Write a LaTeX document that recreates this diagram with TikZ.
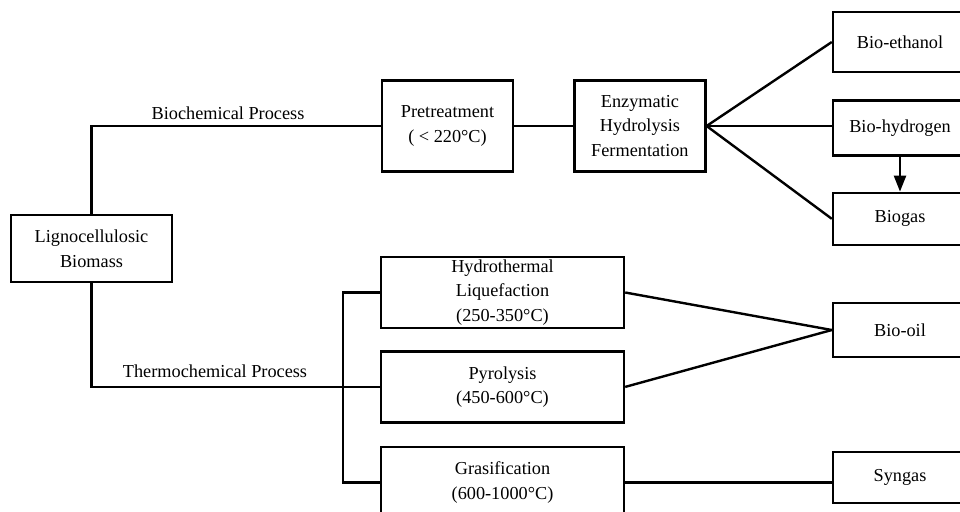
\documentclass[tikz,border=0pt]{standalone}
\usepackage{fontspec}
\setmainfont{Liberation Serif}
\usetikzlibrary{arrows.meta, positioning}

\begin{document}
\begin{tikzpicture}[
        x=0.75pt, y=-0.75pt,
        node distance=15.75pt and 44.25pt,
        box/.style={rectangle, draw=black, line width=1.8pt, inner sep=1pt,
                    minimum width=98.25pt, minimum height=68.25pt, align=center,
                    font=\fontsize{13.7}{18.4}\selectfont},
        widebox/.style={box, minimum width=182.25pt, minimum height=53.25pt},
        outbox/.style={box, minimum width=100.5pt},
        tag/.style={inner sep=0pt, font=\fontsize{13.7}{18.4}\selectfont},
        line/.style={draw, line width=1.8pt},
        arrow/.style={line, -{Triangle[length=12pt, width=9pt]}}
    ]
        \useasboundingbox (0,0) rectangle (960,511);
        \clip (0,0) rectangle (960,511);
        % feedstock and biochemical route
        \node [box, minimum width=120.75pt, minimum height=50.25pt] at (91.5,248.5) (biomass) {Lignocellulosic\\Biomass};
        \node [box] at (447.5,126) (pretreat) {Pretreatment\\( < 220°C)};
        \node [box, right=of pretreat] (enzym) {Enzymatic\\Hydrolysis\\Fermentation};
        \node [outbox, minimum height=45pt] at (900,42) (ethanol) {Bio-ethanol};
        \node [outbox, minimum height=41.25pt, below=19.5pt of ethanol] (hydrogen) {Bio-hydrogen};
        \node [outbox, minimum height=39pt, below=26.25pt of hydrogen] (biogas) {Biogas};
        % thermochemical route
        \node [widebox] at (502.5,292.5) (hydro) {Hydrothermal\\Liquefaction\\(250-350°C)};
        \node [widebox, below=of hydro] (pyro) {Pyrolysis\\(450-600°C)};
        \node [widebox, below=16.5pt of pyro] (gasif) {Grasification\\(600-1000°C)};
        \node [outbox, minimum height=40.5pt] at (900,330) (biooil) {Bio-oil};
        \node [outbox, minimum height=38.25pt] at (900,477.5) (syngas) {Syngas};
        \coordinate (bus) at (343,385);
        % labels
        \node [tag] at (228,113) (biolabel) {Biochemical Process};
        \node [tag] at (215,371) (thermolabel) {Thermochemical Process};
        % connectors
        \path [line] (biomass.north) |- (pretreat.west);
        \path [line] (pretreat) -- (enzym);
        \path [line] (enzym.east) -- (ethanol.west);
        \path [line] (enzym.east) -- (enzym.east -| hydrogen.west);
        \path [line] (enzym.east) -- (biogas.west);
        \path [arrow] (hydrogen) -- (biogas);
        \path [line] (biomass.south) |- (pyro.west);
        \path [line] (hydro.west) -| (bus) |- (gasif.west);
        \path [line] (hydro.east) -- (biooil.west);
        \path [line] (pyro.east)  -- (biooil.west);
        \path [line] (gasif) -- (gasif -| syngas.west);
    \end{tikzpicture}
\end{document}
